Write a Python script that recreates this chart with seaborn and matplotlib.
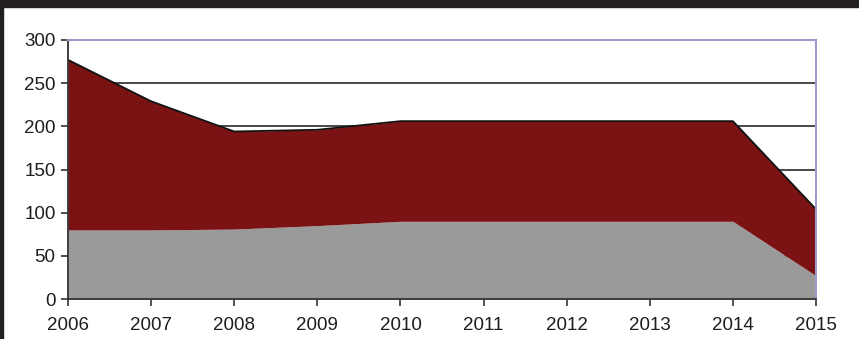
import matplotlib
matplotlib.use("Agg")
import matplotlib.pyplot as plt
import seaborn as sns
import pandas as pd
from matplotlib.patches import Rectangle

years = [2006, 2007, 2008, 2009, 2010, 2011, 2012, 2013, 2014, 2015]
grey_series = [80, 80, 81, 85, 90, 90, 90, 90, 90, 27]
red_series = [197, 149, 113, 111, 116, 116, 116, 116, 116, 77]
y_ticks = [0, 50, 100, 150, 200, 250, 300]

df = pd.DataFrame({"year": years, "grey": grey_series, "red": red_series})
df["total"] = df["grey"] + df["red"]

sns.set_theme(style="white")
plt.rcParams["font.family"] = ["Liberation Sans", "DejaVu Sans"]

fig = plt.figure(figsize=(8.59, 3.39), dpi=100)
ax = fig.add_axes([68 / 859, 1 - 299 / 339, (816 - 68) / 859, (299 - 40) / 339])

for v in y_ticks[1:-1]:
    ax.axhline(v, color="#2a2a2a", lw=1.2, zorder=0)

ax.stackplot(df["year"], df["grey"], df["red"], colors=["#9a9a9a", "#7b1315"],
             linewidth=0, zorder=2)
sns.lineplot(data=df, x="year", y="total", color="#111111", lw=1.3, ax=ax, zorder=3)

ax.set_xlim(2006, 2015)
ax.set_ylim(0, 300)
ax.set_xticks(years)
ax.set_xticklabels([str(y) for y in years])
ax.set_yticks(y_ticks)
ax.set_xlabel("")
ax.set_ylabel("")

for s in ["left", "bottom"]:
    ax.spines[s].set_color("#333333")
    ax.spines[s].set_linewidth(1.3)
for s in ["top", "right"]:
    ax.spines[s].set_color("#9c9ccc")
    ax.spines[s].set_linewidth(1.5)
for sp in ax.spines.values():
    sp.set_zorder(4)

ax.tick_params(axis="both", which="both", length=5, width=1.2, color="#333333",
               labelsize=13.5, labelcolor="#1e1e1e", direction="out",
               left=True, bottom=True, pad=4)
ax.tick_params(axis="x", pad=8)
ax.set_facecolor("white")

fig.patches.append(Rectangle((0, 1 - 7 / 339), 1, 7 / 339, transform=fig.transFigure,
                             color="#231f20", zorder=10))
fig.patches.append(Rectangle((0, 0), 3 / 859, 1, transform=fig.transFigure,
                             color="#231f20", zorder=10))

fig.savefig("out.png", dpi=100)
